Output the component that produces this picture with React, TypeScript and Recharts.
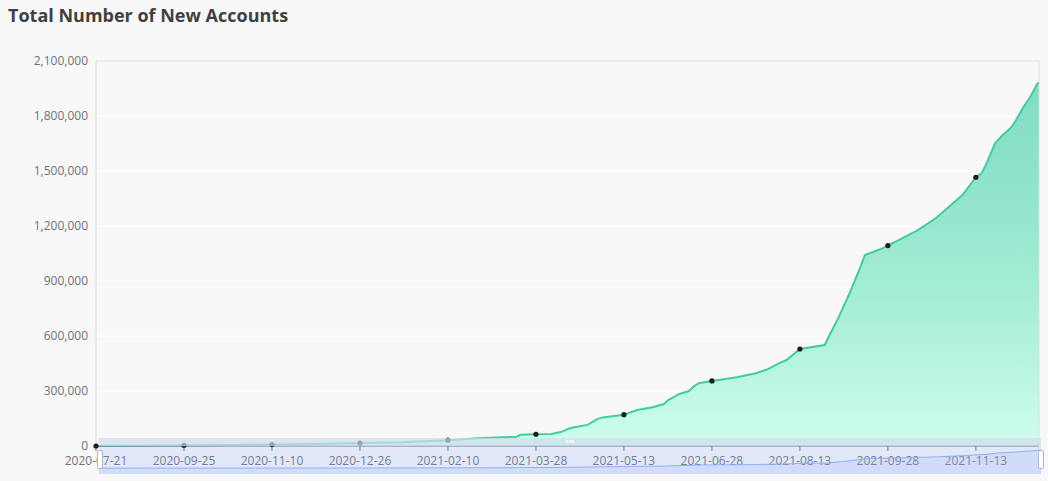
import React from 'react';
import {
  AreaChart, Area, XAxis, YAxis, CartesianGrid, ReferenceLine,
} from 'recharts';

// days since 2020-07-21 (first category) and the running total
const DAYS = [
  0, 20, 46, 70, 92, 115, 138, 160, 184, 200, 220, 222, 230, 238, 243, 248, 257, 262, 265,
  276, 278, 283, 291, 297, 299, 305, 310, 312, 315, 322, 335, 345, 351, 357, 361, 368,
  381, 384, 388, 394, 399, 402, 410, 414, 429, 439, 453, 460, 463, 466, 470, 474, 477,
  479, 481, 485, 488, 492, 493,
];
const TOTALS = [
  0, 1000, 3000, 5000, 8000, 11000, 16000, 21000, 32000, 42000, 51000, 62000, 64000, 65000,
  76000, 98000, 115000, 147000, 156000, 171000, 178000, 196000, 211000, 229000, 249000,
  284000, 300000, 320000, 342000, 355000, 375000, 397000, 418000, 451000, 469000, 529000,
  551000, 615000, 696000, 833000, 960000, 1042000, 1073000, 1093000, 1174000, 1242000,
  1369000, 1466000, 1487000, 1551000, 1651000, 1696000, 1724000, 1745000, 1778000,
  1851000, 1896000, 1974000, 1985000,
];

const TICK_DAYS = [0, 46, 92, 138, 184, 230, 276, 322, 368, 414, 460];
const TICK_LABELS = [
  '2020-07-21', '2020-09-25', '2020-11-10', '2020-12-26', '2021-02-10', '2021-03-28',
  '2021-05-13', '2021-06-28', '2021-08-13', '2021-09-28', '2021-11-13',
];
const Y_TICKS = [0, 300000, 600000, 900000, 1200000, 1500000, 1800000, 2100000];

const data = DAYS.map((day, i) => ({ day, total: TOTALS[i] }));

const FONT = '"Open Sans", "Noto Sans", sans-serif';
const LINE = '#3ccf9f';

const renderDot = (props: any) => {
  const { cx, cy, payload, index } = props;
  if (!TICK_DAYS.includes(payload.day)) return <g key={`dot-${index}`} />;
  return <circle key={`dot-${index}`} cx={cx} cy={cy} r={2.6} fill="#1d1d1d" />;
};

function Slider() {
  // echarts-like dataZoom slider sitting on the bottom of the plot
  return (
    <div style={{ position: 'absolute', left: 99, top: 438, width: 942, height: 36 }}>
      <div style={{ height: 8, background: 'rgba(210,219,238,0.7)', position: 'relative' }}>
        <div style={{ position: 'absolute', left: 467, top: 2, display: 'flex', gap: 1 }}>
          {[0, 1, 2].map((k) => (
            <div key={k} style={{ width: 2, height: 3, background: '#fff', borderRadius: 1 }} />
          ))}
        </div>
      </div>
      <div style={{ height: 28, background: 'rgba(135,175,255,0.2)', borderTop: 'none' }}>
        <AreaChart width={942} height={28} data={data} margin={{ top: 0, right: 0, bottom: 0, left: 0 }}>
          <XAxis type="number" dataKey="day" domain={[0, 493]} hide />
          <YAxis domain={[-644000, 2424000]} hide />
          <Area
            type="linear"
            dataKey="total"
            stroke="#8fb0f7"
            strokeWidth={1}
            fill="#8fb0f7"
            fillOpacity={0.2}
            baseValue={-644000}
            dot={false}
            isAnimationActive={false}
          />
        </AreaChart>
      </div>
      {[-2, 939].map((l) => (
        <div
          key={l}
          style={{
            position: 'absolute', left: l, top: 12, width: 4, height: 17,
            background: '#fff', border: '1px solid #acb8d1', borderRadius: 2,
          }}
        />
      ))}
    </div>
  );
}

export default function App() {
  return (
    <div
      style={{
        position: 'absolute', left: 0, top: 0, width: 1048, height: 481,
        background: '#f8f8f8', fontFamily: FONT, overflow: 'hidden',
      }}
    >
      <div
        style={{
          position: 'absolute', left: 8, top: 6, fontSize: 18, lineHeight: '18px',
          fontWeight: 700, color: '#404040',
        }}
      >
        Total Number of New Accounts
      </div>
      <div style={{ position: 'absolute', left: 0, top: 0 }}>
        <AreaChart width={1048} height={481} data={data} margin={{ top: 61, right: 9, bottom: 5, left: 0 }}>
          <defs>
            <linearGradient id="accFill" x1="0" y1="0" x2="0" y2="1">
              <stop offset="0%" stopColor="#32cba0" stopOpacity={0.6} />
              <stop offset="100%" stopColor="#c8ffec" stopOpacity={0.85} />
            </linearGradient>
          </defs>
          <CartesianGrid vertical={false} stroke="#ffffff" strokeWidth={1} />
          <XAxis
            type="number"
            dataKey="day"
            domain={[0, 493]}
            ticks={TICK_DAYS}
            interval={0}
            height={30}
            tickSize={5}
            tickMargin={5}
            axisLine={{ stroke: '#6e7079' }}
            tickLine={{ stroke: '#6e7079' }}
            tick={{ fill: '#6e7079', fontSize: 12, fontFamily: FONT }}
            tickFormatter={(v: number) => TICK_LABELS[TICK_DAYS.indexOf(v)] ?? ''}
          />
          <YAxis
            domain={[0, 2100000]}
            ticks={Y_TICKS}
            width={96}
            interval={0}
            axisLine={{ stroke: '#dcdcdc' }}
            tickLine={false}
            tick={{ fill: '#6e7079', fontSize: 12, fontFamily: FONT }}
            tickFormatter={(v: number) => v.toLocaleString('en-US')}
          />
          <ReferenceLine y={2100000} stroke="#dcdcdc" />
          <ReferenceLine x={493} stroke="#dcdcdc" />
          <Area
            type="linear"
            dataKey="total"
            stroke={LINE}
            strokeWidth={2}
            fill="url(#accFill)"
            fillOpacity={1}
            dot={renderDot}
            activeDot={false}
            isAnimationActive={false}
          />
        </AreaChart>
      </div>
      <Slider />
    </div>
  );
}
